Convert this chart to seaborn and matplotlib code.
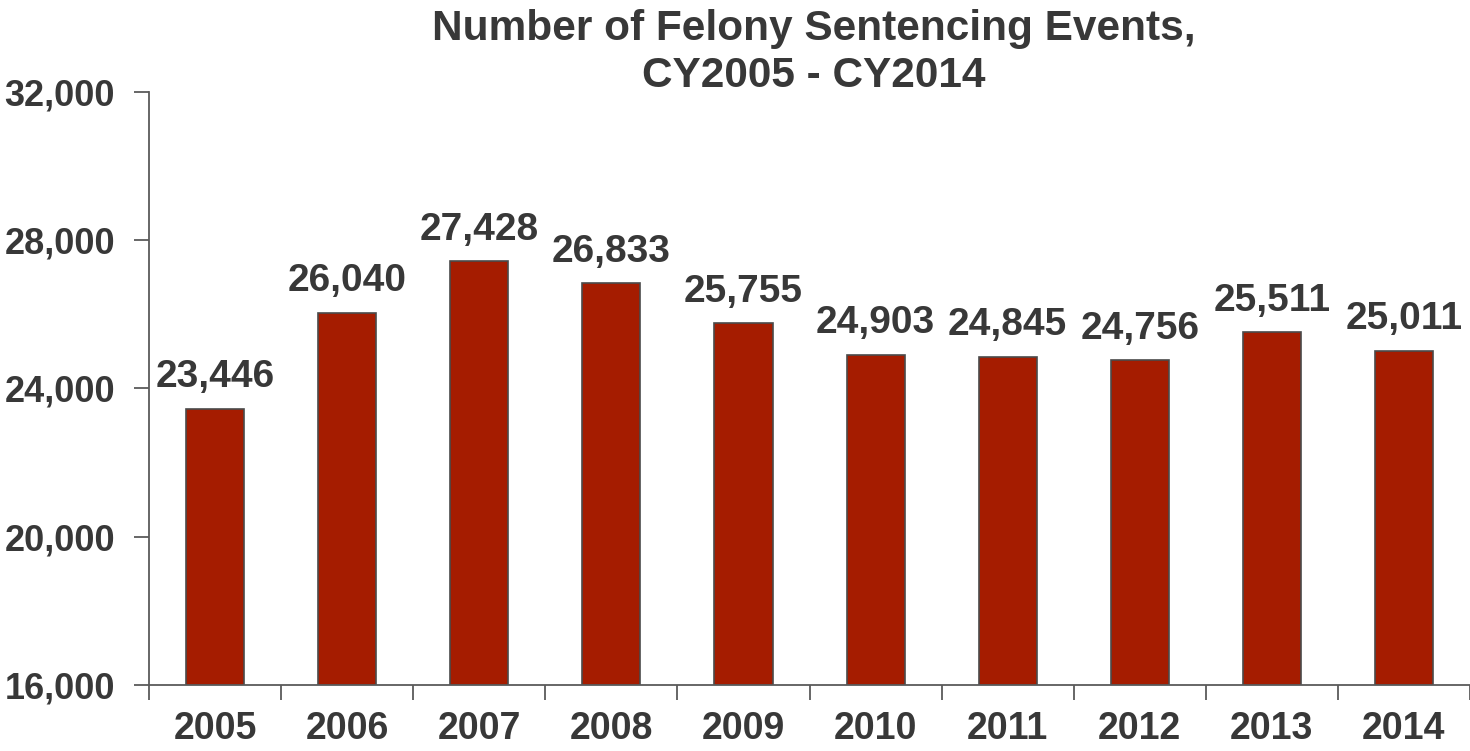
import matplotlib
matplotlib.use("Agg")
import matplotlib.pyplot as plt
import seaborn as sns
import pandas as pd
from matplotlib.ticker import FuncFormatter, FixedLocator

years = ["2005", "2006", "2007", "2008", "2009", "2010", "2011", "2012", "2013", "2014"]
events = [23446, 26040, 27428, 26833, 25755, 24903, 24845, 24756, 25511, 25011]
y_ticks = [16000, 20000, 24000, 28000, 32000]

df = pd.DataFrame({"year": years, "events": events})

sns.set_style("white")
plt.rcParams["font.family"] = ["Liberation Sans", "DejaVu Sans"]
plt.rcParams["font.weight"] = "bold"

text_color = "#383838"
axis_color = "#5a5a5a"

fig = plt.figure(figsize=(14.7, 7.51), dpi=100)
ax = fig.add_axes([0.1014, 0.088, 0.8986, 0.7895])

sns.barplot(data=df, x="year", y="events", color="#a51c00", width=0.44,
            edgecolor="#4a4a4a", linewidth=1.2, saturation=1, ax=ax)

ax.set_ylim(16000, 32000)
ax.set_xlim(-0.5, len(years) - 0.5)
ax.yaxis.set_major_locator(FixedLocator(y_ticks))
ax.yaxis.set_major_formatter(FuncFormatter(lambda v, _: f"{int(v):,}"))
ax.xaxis.set_minor_locator(FixedLocator([i + 0.5 for i in range(-1, len(years))]))
ax.set_xlabel("")
ax.set_ylabel("")

for s in ["top", "right"]:
    ax.spines[s].set_visible(False)
for s in ["left", "bottom"]:
    ax.spines[s].set_color(axis_color)
    ax.spines[s].set_linewidth(1.3)

ax.tick_params(axis="y", which="major", direction="out", length=11, width=1.3,
               color=axis_color, labelsize=26, labelcolor=text_color, pad=13.5, left=True)
ax.tick_params(axis="x", which="major", length=0, labelsize=27, labelcolor=text_color, pad=19)
ax.tick_params(axis="x", which="minor", direction="out", length=11, width=1.3,
               color=axis_color, bottom=True)
for lab in ax.get_xticklabels() + ax.get_yticklabels():
    lab.set_fontweight("bold")

for i, v in enumerate(events):
    ax.annotate(f"{v:,}", xy=(i, v), xytext=(0, 10), textcoords="offset points",
                ha="center", va="bottom", fontsize=28, fontweight="bold",
                color=text_color, clip_on=False)

fig.text(0.5535, 0.93, "Number of Felony Sentencing Events,\nCY2005 - CY2014",
         ha="center", va="center", fontsize=30.5, fontweight="bold",
         color=text_color, linespacing=1.25)

fig.savefig("out.png", dpi=100)
